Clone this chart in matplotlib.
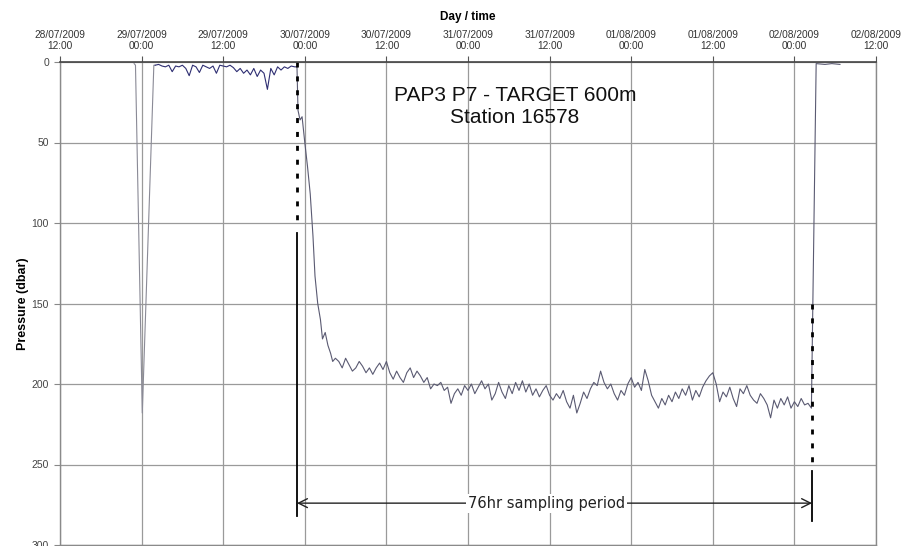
import numpy as np
import matplotlib
matplotlib.use("Agg")
import matplotlib.pyplot as plt

# ---- data (hours after 28/07/2009 12:00, pressure in dbar) ----
tick_hours = [0, 12, 24, 36, 48, 60, 72, 84, 96, 108, 120]
tick_labels = ["28/07/2009\n12:00", "29/07/2009\n00:00", "29/07/2009\n12:00",
               "30/07/2009\n00:00", "30/07/2009\n12:00", "31/07/2009\n00:00",
               "31/07/2009\n12:00", "01/08/2009\n00:00", "01/08/2009\n12:00",
               "02/08/2009\n00:00", "02/08/2009\n12:00"]
y_ticks = [0, 50, 100, 150, 200, 250, 300]

spike_hours = [10.9, 11.1, 12.1, 13.8]
spike_p = [1, 2, 218, 2]

surface_start, surface_step = 14.0, 0.5
surface_p = [2, 1.5, 2.5, 3, 2, 6, 2.5, 3, 2, 4,
             8.5, 2, 3, 6.5, 2, 3, 4, 2.5, 7, 2,
             2.5, 3, 2, 3.5, 6, 4, 7, 5, 8, 4,
             9, 5, 7, 17, 4, 8, 3, 5, 3, 4,
             2.5, 3]

descent_hours = [34.85, 35.0, 35.3, 35.6, 36.0, 36.4, 36.8, 37.2, 37.5, 37.9,
                 38.3, 38.6, 39.0, 39.4, 39.8, 40.1, 40.5]
descent_p = [3, 30, 36, 34, 50, 65, 82, 108, 133, 150,
             160, 172, 168, 176, 181, 186, 184]

deep_start, deep_step = 41.0, 0.5
deep_p = [186, 190, 184, 188, 192, 190, 186, 189, 193, 190,
          194, 190, 187, 191, 186, 193, 197, 192, 196, 199,
          193, 190, 196, 192, 195, 199, 196, 203, 200, 201,
          199, 204, 202, 212, 206, 203, 207, 201, 204, 200,
          206, 202, 198, 203, 200, 210, 206, 199, 205, 209,
          201, 206, 199, 204, 198, 205, 200, 207, 203, 208,
          204, 201, 207, 210, 206, 209, 204, 211, 215, 207,
          218, 212, 205, 209, 203, 199, 201, 192, 199, 203,
          200, 206, 210, 204, 207, 200, 196, 202, 199, 204,
          191, 198, 207, 211, 215, 209, 213, 207, 211, 205,
          209, 203, 207, 201, 210, 204, 208, 202, 198, 195,
          193, 200, 211, 205, 208, 202, 209, 214, 203, 206,
          201, 207, 210, 212, 206, 209, 213, 221, 210, 215,
          209, 213, 208, 215, 211, 214, 209, 213, 212, 215]

end_hours = [111.2, 112.5, 113.5, 114.7]
end_p = [1, 1.5, 1, 1.5]

sample_start = 34.85   # start of sampling period
sample_end = 110.6     # end of sampling period
period_label = "76hr sampling period"
title_lines = ["PAP3 P7 - TARGET 600m", "Station 16578"]

# ---- build series ----
surface_hours = surface_start + surface_step * np.arange(len(surface_p))
deep_hours = deep_start + deep_step * np.arange(len(deep_p))

fig = plt.figure(figsize=(9.04, 5.46), dpi=100)
ax = fig.add_axes([60/904, 1/546, 816/904, 483/546])

grid_c = "#9a9a9a"
ax.set_xlim(0, 120)
ax.set_ylim(300, 0)
ax.set_xticks(tick_hours)
ax.set_xticklabels(tick_labels, family="Liberation Sans", fontsize=7.3, color="#333333",
                   linespacing=1.15)
ax.set_yticks(y_ticks)
ax.set_yticklabels([str(v) for v in y_ticks], family="Liberation Sans", fontsize=7.5,
                   color="#444444")
ax.xaxis.tick_top()
ax.xaxis.set_label_position("top")
ax.tick_params(axis="x", length=4, width=0.8, color="#555555", pad=4)
ax.tick_params(axis="y", length=4, width=0.8, color="#888888", pad=4)
ax.grid(True, color=grid_c, lw=0.9)
ax.set_axisbelow(True)
for s in ["left", "right", "bottom"]:
    ax.spines[s].set_color("#8a8a8a")
    ax.spines[s].set_linewidth(1.0)
ax.spines["top"].set_color("#444444")
ax.spines["top"].set_linewidth(1.2)

ax.set_xlabel("Day / time", family="Liberation Sans", fontweight="bold", fontsize=8.5,
              labelpad=7)
ax.set_ylabel("Pressure (dbar)", family="Liberation Sans", fontweight="bold", fontsize=9,
              labelpad=2)

line_c = "#5a5a72"
ax.plot(spike_hours + [surface_hours[0]], spike_p + [surface_p[0]], color="#8a8a96", lw=0.8)
ax.plot(np.concatenate([surface_hours, [descent_hours[0]]]),
        surface_p + [descent_p[0]], color="#2e2e72", lw=0.8)
ax.plot(np.concatenate([descent_hours, deep_hours, end_hours]),
        descent_p + deep_p + end_p, color=line_c, lw=0.8)

# sampling markers
ax.plot([sample_start, sample_start], [0, 101], color="black", lw=2.0,
        linestyle=(0, (1.8, 3.2)))
ax.plot([sample_start, sample_start], [106, 282], color="black", lw=1.3)
ax.plot([sample_end, sample_end], [150, 250], color="black", lw=2.0,
        linestyle=(0, (1.8, 3.2)))
ax.plot([sample_end, sample_end], [254, 285], color="black", lw=1.3)
ax.annotate("", xy=(sample_start, 274), xytext=(sample_end, 274),
            arrowprops=dict(arrowstyle="<->", color="#222222", lw=1.0,
                            mutation_scale=16, shrinkA=0, shrinkB=0))
ax.text(71.5, 274, period_label, family="DejaVu Sans", fontsize=10.5, color="#222222",
        ha="center", va="center",
        bbox=dict(facecolor="white", edgecolor="none", pad=1.5))

ax.text(66.9, 20.5, title_lines[0], family="Liberation Sans", fontsize=15,
        ha="center", va="center", color="#111111")
ax.text(66.9, 34.7, title_lines[1], family="Liberation Sans", fontsize=15,
        ha="center", va="center", color="#111111")

fig.savefig("out.png", dpi=100)
